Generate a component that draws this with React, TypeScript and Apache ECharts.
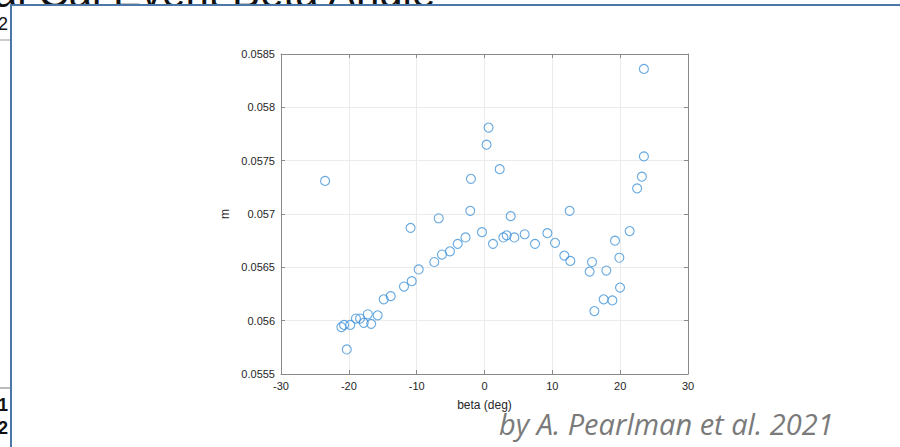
import React, { useEffect, useRef } from "react";
import * as echarts from "echarts";

const betaDeg: number[] = [
  -23.5, 0.6, 0.3, 2.24, -2.0, -2.1, -6.75, -10.9, -0.37, -2.8,
  23.5, 23.5, 23.2, 22.5, 3.86, 12.55, 21.4, 1.25, -3.95, -5.09,
  -6.27, -7.4, -9.7, -10.73, -11.87, -13.83, -14.86, -15.75, -17.2, -16.7,
  -17.8, -18.35, -18.95, -19.8, -20.7, -21.1, -20.3, 2.78, 3.27, 4.4,
  5.92, 7.45, 9.27, 10.4, 11.77, 12.65, 15.5, 15.85, 16.2, 17.57,
  17.96, 18.85, 19.24, 19.88, 19.98,
];
const mValues: number[] = [
  0.05731, 0.05781, 0.05765, 0.05742, 0.05733, 0.05703, 0.05696, 0.05687, 0.05683, 0.05678,
  0.05836, 0.05754, 0.05735, 0.05724, 0.05698, 0.05703, 0.05684, 0.05672, 0.05672, 0.05665,
  0.05662, 0.05655, 0.05648, 0.05637, 0.05632, 0.05623, 0.0562, 0.05605, 0.05606, 0.05597,
  0.05598, 0.05602, 0.05602, 0.05596, 0.05596, 0.05594, 0.05573, 0.05678, 0.0568, 0.05678,
  0.05681, 0.05672, 0.05682, 0.05673, 0.05661, 0.05656, 0.05646, 0.05655, 0.05609, 0.0562,
  0.05647, 0.05619, 0.05675, 0.05659, 0.05631,
];
const xTicks = { min: -30, max: 30, interval: 10 };
const yTicks = { min: 0.0555, max: 0.0585, interval: 0.0005 };
const xTitle = "beta (deg)";
const yTitle = "m";
const slideTitle = "al Cal Event Beta Angle";
const credit = "by A. Pearlman et al. 2021";

export default function App() {
  const ref = useRef<HTMLDivElement>(null);
  useEffect(() => {
    if (!ref.current) return;
    const chart = echarts.init(ref.current, undefined, { renderer: "svg" });
    const axisColor = "#8a8a8a";
    const font = "'Liberation Sans', Arial, Helvetica, sans-serif";
    const data = betaDeg.map((b, i) => [b, mValues[i]]);
    chart.setOption({
      animation: false,
      backgroundColor: "#ffffff",
      textStyle: { fontFamily: font },
      grid: { left: 281, right: 212, top: 54, bottom: 73, containLabel: false },
      xAxis: [
        {
          type: "value",
          min: xTicks.min,
          max: xTicks.max,
          interval: xTicks.interval,
          position: "bottom",
          name: xTitle,
          nameLocation: "middle",
          nameGap: 25,
          nameTextStyle: { color: "#262626", fontSize: 12, fontFamily: font },
          axisLine: { show: true, onZero: false, lineStyle: { color: axisColor, width: 1 } },
          axisTick: { show: true, inside: true, length: 4, lineStyle: { color: axisColor } },
          axisLabel: { color: "#262626", fontSize: 11, margin: 6, fontFamily: font },
          splitLine: { show: true, lineStyle: { color: "#ebebeb", width: 1 } },
        },
        {
          type: "value",
          min: xTicks.min,
          max: xTicks.max,
          interval: xTicks.interval,
          position: "top",
          axisLine: { show: true, onZero: false, lineStyle: { color: axisColor, width: 1 } },
          axisTick: { show: true, inside: true, length: 4, lineStyle: { color: axisColor } },
          axisLabel: { show: false },
          splitLine: { show: false },
        },
      ],
      yAxis: [
        {
          type: "value",
          min: yTicks.min,
          max: yTicks.max,
          interval: yTicks.interval,
          position: "left",
          name: yTitle,
          nameLocation: "middle",
          nameGap: 50,
          nameRotate: 90,
          nameTextStyle: { color: "#262626", fontSize: 12, fontFamily: font },
          axisLine: { show: true, onZero: false, lineStyle: { color: axisColor, width: 1 } },
          axisTick: { show: true, inside: true, length: 4, lineStyle: { color: axisColor } },
          axisLabel: {
            color: "#262626",
            fontSize: 11,
            margin: 6,
            fontFamily: font,
            formatter: (v: number) => String(parseFloat(v.toFixed(4))),
          },
          splitLine: { show: true, lineStyle: { color: "#ebebeb", width: 1 } },
        },
        {
          type: "value",
          min: yTicks.min,
          max: yTicks.max,
          interval: yTicks.interval,
          position: "right",
          axisLine: { show: true, onZero: false, lineStyle: { color: axisColor, width: 1 } },
          axisTick: { show: true, inside: true, length: 4, lineStyle: { color: axisColor } },
          axisLabel: { show: false },
          splitLine: { show: false },
        },
      ],
      series: [
        {
          type: "scatter",
          xAxisIndex: 0,
          yAxisIndex: 0,
          data,
          symbol: "circle",
          symbolSize: 9,
          itemStyle: { color: "rgba(0,0,0,0)", borderColor: "#3f92d8", borderWidth: 1.1 },
          emphasis: { disabled: true },
        },
      ],
      graphic: [
        {
          type: "text",
          x: -6,
          y: 13,
          style: {
            text: slideTitle,
            fontSize: 42,
            fill: "#111",
            verticalAlign: "bottom",
            fontFamily: "'Liberation Sans', Arial, sans-serif",
          },
          z: 10,
        },
        {
          type: "rect",
          shape: { x: 12, y: 6, width: 888, height: 12 },
          style: { fill: "#ffffff" },
          z: 10.5,
        },
        {
          type: "rect",
          shape: { x: 10, y: 4, width: 900, height: 2 },
          style: { fill: "#4b78a8" },
          z: 11,
        },
        {
          type: "rect",
          shape: { x: 10, y: 4, width: 2, height: 450 },
          style: { fill: "#4b78a8" },
          z: 11,
        },
        {
          type: "line",
          shape: { x1: 0, y1: 40, x2: 10, y2: 40 },
          style: { stroke: "#999", lineWidth: 1 },
          z: 10,
        },
        {
          type: "line",
          shape: { x1: 0, y1: 388, x2: 10, y2: 388 },
          style: { stroke: "#bbb", lineWidth: 2 },
          z: 10,
        },
        {
          type: "text",
          x: -2,
          y: 15,
          style: { text: "2", fontSize: 18, fill: "#111", fontFamily: "'Liberation Sans', Arial, sans-serif" },
          z: 10,
        },
        {
          type: "text",
          x: -2,
          y: 396,
          style: { text: "1", fontSize: 18, fontWeight: "bold", fill: "#111", fontFamily: "'Liberation Sans', Arial, sans-serif" },
          z: 10,
        },
        {
          type: "text",
          x: -2,
          y: 419,
          style: { text: "2", fontSize: 18, fontWeight: "bold", fill: "#111", fontFamily: "'Liberation Sans', Arial, sans-serif" },
          z: 10,
        },
        {
          type: "rect",
          shape: { x: 12, y: 6, width: 20, height: 441 },
          style: { fill: "#ffffff" },
          z: 10.5,
        },
        {
          type: "text",
          x: 499,
          y: 409,
          style: {
            text: credit,
            fontSize: 29,
            fontStyle: "italic",
            fill: "#7a7a7a",
            fontFamily: "'Open Sans', 'Noto Sans', sans-serif",
          },
          z: 10,
        },
      ],
    });
    return () => chart.dispose();
  }, []);
  return (
    <div
      ref={ref}
      style={{ position: "fixed", left: 0, top: 0, width: 900, height: 447, background: "#fff" }}
    />
  );
}
